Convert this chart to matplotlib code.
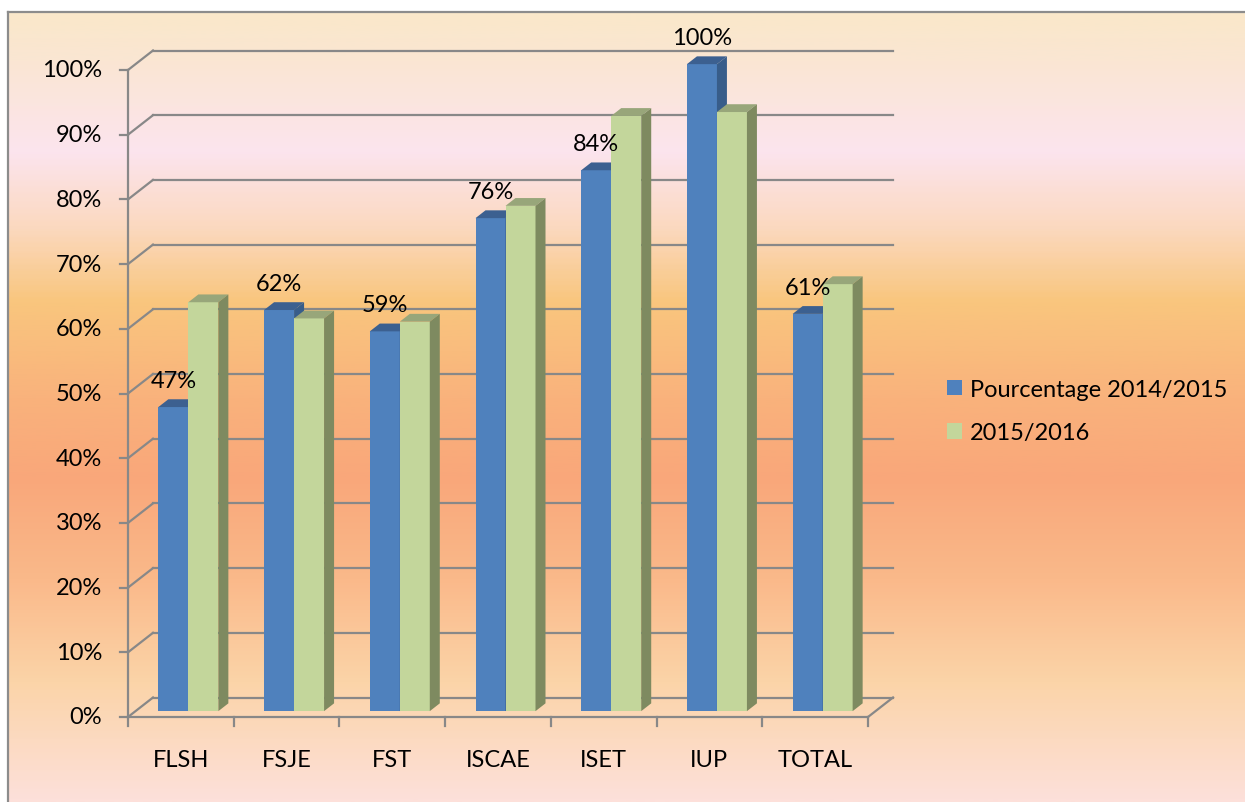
import numpy as np
import matplotlib
matplotlib.use("Agg")
import matplotlib.pyplot as plt
from matplotlib.patches import Polygon, Patch
from matplotlib.colors import LinearSegmentedColormap

plt.rcParams['font.family'] = ['Lato', 'DejaVu Sans']

# donnees
categories = ['FLSH', 'FSJE', 'FST', 'ISCAE', 'ISET', 'IUP', 'TOTAL']
pct_2014 = [47, 62, 58.7, 76.2, 83.6, 100, 61.4]
pct_2015 = [63.2, 60.7, 60.2, 78.1, 92.0, 92.6, 66.0]
series_names = ['Pourcentage 2014/2015', '2015/2016']
yticks = [0, 10, 20, 30, 40, 50, 60, 70, 80, 90, 100]

# couleurs (face, dessus, cote)
blue = ('#4f81bd', '#3c6090', '#385d8a')
green = ('#c3d69b', '#98a67a', '#7e8a60')
grid_col = '#888888'
fs = 17

W, H = 1245, 803
fig = plt.figure(figsize=(W / 100, H / 100), dpi=100)

# fond degrade
bg = fig.add_axes([8 / W, 0, 1 - 8 / W, (H - 13) / H])
stops = [(0.0, '#fae8ca'), (0.06, '#fae6d3'), (0.175, '#fce4ee'), (0.27, '#fbd9c0'),
         (0.365, '#f9c67e'), (0.49, '#f9b27c'), (0.59, '#f9a77a'), (0.72, '#fab98a'),
         (0.85, '#fbd4a8'), (1.0, '#fde0da')]
cmap = LinearSegmentedColormap.from_list('fond', stops)
bg.imshow(np.linspace(0, 1, 400).reshape(-1, 1), cmap=cmap, aspect='auto',
          extent=(0, 1, 1, 0))
bg.set_xlim(0, 1)
bg.set_ylim(1, 0)
bg.set_xticks([])
bg.set_yticks([])
for s in ['right', 'bottom']:
    bg.spines[s].set_visible(False)
for s in ['left', 'top']:
    bg.spines[s].set_color('#8c8c8c')
    bg.spines[s].set_linewidth(1.6)

# axe principal : 1 unite x = 1 categorie, 1 unite y = 1 %
ax = fig.add_axes([0, 0, 1, 1])
ax.set_facecolor('none')
ax.axis('off')
x0_px, x1_px, y0_px, y100_px = 128, 868, 718, 71
n = len(categories)
sx = n / (x1_px - x0_px)
sy = 100 / (y0_px - y100_px)
ax.set_xlim(-x0_px * sx, (W - x0_px) * sx)
ax.set_ylim(-(H - y0_px) * sy, y0_px * sy)

DX, DY = 25 * sx, 19.5 * sy      # profondeur
lw = 1.6

# murs / grille
for v in yticks:
    ax.plot([DX, n + DX], [v + DY, v + DY], color=grid_col, lw=lw, zorder=1)
    ax.plot([0, DX], [v, v + DY], color=grid_col, lw=lw, zorder=1)
    ax.plot([-8 * sx, 0], [v, v], color=grid_col, lw=lw, zorder=1)
    ax.text(-26 * sx, v, f'{v}%', ha='right', va='center', fontsize=fs)
ax.plot([0, 0], [0, 100], color=grid_col, lw=lw, zorder=1)
ax.plot([0, n], [0, 0], color=grid_col, lw=lw, zorder=1)
ax.plot([n, n + DX], [0, DY], color=grid_col, lw=lw, zorder=1)
for k in range(n + 1):
    ax.plot([k, k], [0, -9 * sy], color=grid_col, lw=lw, zorder=1)
for i, c in enumerate(categories):
    ax.text(i + 0.5, -43 * sy, c, ha='center', va='center', fontsize=fs)

# barres 3D
bw = 30 * sx
f0, f1 = 0.3, 0.7


def bar3d(x, h, cols):
    bx, by = x + f0 * DX, f0 * DY
    ddx, ddy = (f1 - f0) * DX, (f1 - f0) * DY
    ax.bar(bx, h, width=bw, bottom=by, align='edge', color=cols[0], lw=0, zorder=3)
    top = [(bx, by + h), (bx + bw, by + h), (bx + bw + ddx, by + h + ddy), (bx + ddx, by + h + ddy)]
    side = [(bx + bw, by), (bx + bw + ddx, by + ddy), (bx + bw + ddx, by + h + ddy), (bx + bw, by + h)]
    ax.add_patch(Polygon(top, closed=True, facecolor=cols[1], lw=0, zorder=3))
    ax.add_patch(Polygon(side, closed=True, facecolor=cols[2], lw=0, zorder=3))


for i in range(n):
    xb = i + 0.5 - bw
    bar3d(xb, pct_2014[i], blue)
    bar3d(i + 0.5, pct_2015[i], green)
    ax.annotate(f'{round(pct_2014[i])}%', (xb + bw / 2 + f0 * DX, pct_2014[i] + f0 * DY),
                xytext=(0, 19), textcoords='offset points', ha='center', va='center',
                fontsize=fs, zorder=5)

handles = [Patch(facecolor=blue[0]), Patch(facecolor=green[0])]
ax.legend(handles, series_names, loc='center left', bbox_to_anchor=(947 / W, 1 - 412 / H),
          bbox_transform=fig.transFigure, frameon=False, fontsize=fs,
          handlelength=0.62, handleheight=0.62, handletextpad=0.35,
          labelspacing=0.95, borderpad=0, borderaxespad=0)

fig.savefig('out.png', dpi=100)
